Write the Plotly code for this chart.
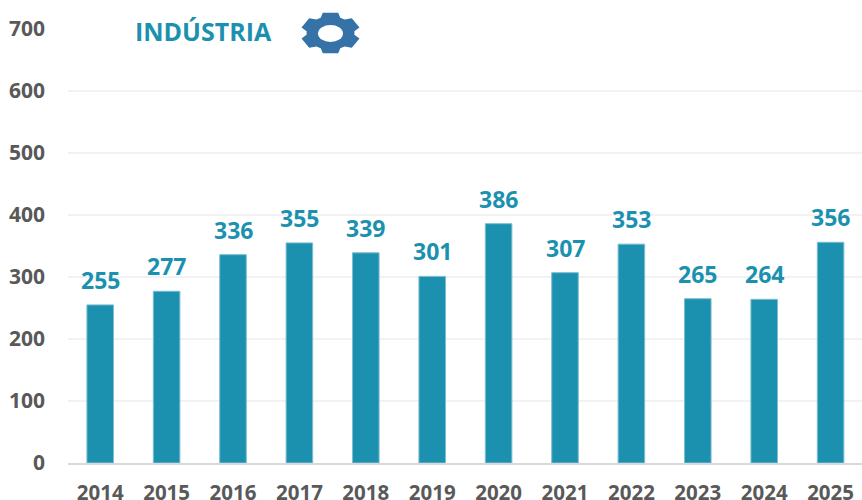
import math
import plotly.graph_objects as go

years = ["2014","2015","2016","2017","2018","2019","2020","2021","2022","2023","2024","2025"]
values = [255,277,336,355,339,301,386,307,353,265,264,356]
y_ticks = [0,100,200,300,400,500,600,700]
title_text = "INDÚSTRIA"
teal = "#1B91AF"
grey = "#595959"
icon_blue = "#3572A8"

W, H = 862, 506
L, R, T, B = 68, 0, 29, 43
pw = W - L - R
ph = H - T - B

def px(x):
    return (x - L) / pw

def py(y):
    return 1 - (y - T) / ph

def gear_path(rx, ry, teeth=6):
    pts = []
    step = 2 * math.pi / teeth
    for i in range(teeth):
        a = i * step + math.pi / 2
        for da, r in [(-0.42, 0.80), (-0.26, 1.0), (0.26, 1.0), (0.42, 0.80)]:
            t = a + da
            pts.append((rx * r * math.cos(t), ry * r * math.sin(t)))
    return "M " + " L ".join(f"{x:.1f},{y:.1f}" for x, y in pts) + " Z"

fig = go.Figure(go.Bar(
    x=years, y=values, marker_color=teal, width=0.4,
    marker_line=dict(color="#7CBDCF", width=1)))

annotations = [dict(x=i, y=v, text=str(v), xref="x", yref="y", showarrow=False,
                    yanchor="bottom", yshift=7,
                    font=dict(family="Open Sans", size=23, color=teal, weight="bold"))
               for i, v in enumerate(values)]
annotations.append(dict(text=title_text, xref="paper", yref="paper", x=px(133), y=py(31),
                        showarrow=False, xanchor="left", yanchor="middle",
                        font=dict(family="Open Sans", size=25, color=teal, weight="bold")))

shapes = [
    dict(type="path", xref="paper", yref="paper", xsizemode="pixel", ysizemode="pixel",
         xanchor=px(330.5), yanchor=py(33), path=gear_path(30, 21),
         fillcolor=icon_blue, line=dict(width=0)),
    dict(type="circle", xref="paper", yref="paper", x0=px(318), x1=px(343), y0=py(42), y1=py(25),
         fillcolor="white", line=dict(width=0)),
]

fig.update_layout(
    width=W, height=H, autosize=False, margin=dict(l=L, r=R, t=T, b=B),
    paper_bgcolor="white", plot_bgcolor="white", showlegend=False,
    font=dict(family="Open Sans", color=grey),
    xaxis=dict(type="category", range=[-0.485, 11.473], showline=True, linecolor="#D9D9D9", linewidth=2,
               ticks="", ticklabelstandoff=10, tickfont=dict(size=20.5, weight="bold", color=grey)),
    yaxis=dict(range=[0,700], tickvals=y_ticks, showgrid=True, gridcolor="#F2F2F2", gridwidth=2,
               zeroline=False, ticks="", ticklabelstandoff=22,
               tickfont=dict(size=21, weight="bold", color=grey)),
    annotations=annotations, shapes=shapes)
fig.write_html("out.html", config=dict(displayModeBar=False),
               post_script="document.body.style.margin='0';document.body.style.overflow='hidden';document.documentElement.style.overflow='hidden';")
